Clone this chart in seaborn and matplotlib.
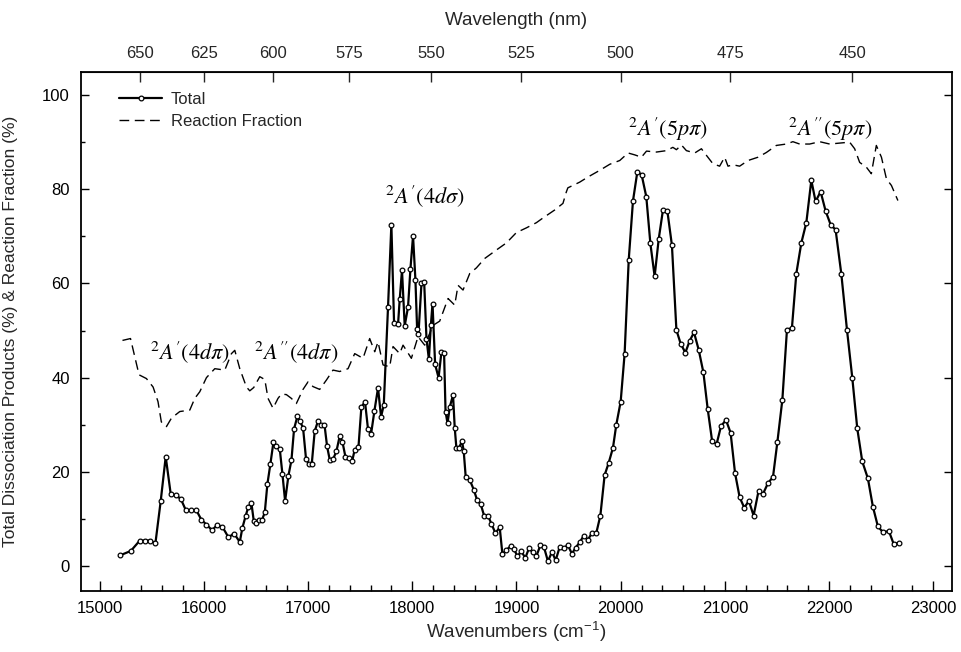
import numpy as np
import pandas as pd
import matplotlib
matplotlib.use("Agg")
import matplotlib.pyplot as plt
import seaborn as sns
from matplotlib.ticker import MultipleLocator, FixedLocator, NullLocator

# ---------------- data ----------------
total_wn = [15199, 15298, 15384, 15438, 15486, 15534, 15585, 15633, 15681, 15729,
            15777, 15825, 15873, 15928, 15976, 16024, 16078, 16126, 16178, 16235,
            16289, 16344, 16369, 16401, 16427, 16456, 16478, 16504, 16529, 16558,
            16584, 16609, 16638, 16667, 16696, 16728, 16753, 16779, 16811, 16840,
            16865, 16897, 16922, 16951, 16980, 17006, 17035, 17063, 17095, 17124,
            17157, 17182, 17208, 17240, 17272, 17303, 17329, 17358, 17390, 17422,
            17447, 17483, 17511, 17546, 17575, 17604, 17636, 17671, 17700, 17726,
            17767, 17799, 17825, 17863, 17879, 17901, 17927, 17959, 17982, 18007,
            18030, 18046, 18059, 18088, 18114, 18136, 18159, 18178, 18194, 18219,
            18252, 18280, 18305, 18319, 18338, 18360, 18391, 18407, 18423, 18448,
            18477, 18493, 18513, 18551, 18590, 18622, 18657, 18689, 18727, 18760,
            18798, 18839, 18865, 18903, 18943, 18975, 19009, 19047, 19085, 19120,
            19158, 19191, 19229, 19264, 19302, 19341, 19376, 19414, 19453, 19494,
            19532, 19568, 19606, 19645, 19686, 19724, 19766, 19805, 19846, 19885,
            19926, 19958, 20000, 20038, 20077, 20118, 20160, 20201, 20246, 20285,
            20326, 20365, 20406, 20448, 20492, 20535, 20576, 20621, 20662, 20704,
            20749, 20794, 20835, 20878, 20921, 20963, 21011, 21055, 21098, 21142,
            21186, 21231, 21276, 21324, 21366, 21414, 21462, 21504, 21552, 21596,
            21644, 21686, 21734, 21782, 21830, 21871, 21919, 21967, 22015, 22063,
            22118, 22172, 22223, 22271, 22319, 22373, 22421, 22469, 22517, 22575,
            22620, 22671]
total_val = [2.3, 3.2, 5.4, 5.4, 5.4, 4.8, 13.8, 23.2, 15.3, 15.0,
             14.3, 11.9, 11.8, 11.8, 9.8, 8.8, 7.6, 8.7, 8.3, 6.1,
             6.9, 5.1, 8.1, 10.7, 12.6, 13.3, 9.6, 9.2, 9.7, 9.8,
             11.4, 17.4, 21.7, 26.3, 25.4, 24.8, 19.6, 13.8, 19.2, 22.5,
             29.1, 31.8, 30.7, 29.4, 22.7, 21.7, 21.7, 28.6, 30.8, 30.0,
             30.0, 25.4, 22.5, 22.7, 24.4, 27.6, 26.4, 23.2, 23.0, 22.2,
             24.7, 25.2, 33.7, 34.9, 29.0, 28.0, 32.9, 37.8, 31.7, 34.2,
             55.0, 72.5, 51.5, 51.3, 56.6, 62.8, 51.0, 55.0, 63.1, 70.1,
             60.7, 50.4, 49.2, 60.0, 60.2, 48.3, 43.9, 51.1, 55.7, 42.8,
             40.0, 45.5, 45.2, 32.8, 30.3, 33.8, 36.3, 29.4, 25.1, 25.1,
             26.5, 24.5, 18.8, 18.3, 16.2, 14.0, 13.1, 10.7, 10.7, 8.9,
             7.0, 8.2, 2.5, 3.4, 4.2, 3.6, 2.1, 3.1, 1.7, 3.8,
             2.9, 2.1, 4.4, 4.0, 1.0, 3.0, 1.2, 4.0, 3.8, 4.4,
             2.6, 3.9, 5.0, 6.4, 5.6, 7.0, 7.0, 10.7, 19.3, 21.9,
             25.1, 30.0, 34.9, 45.1, 64.9, 77.5, 83.7, 83.1, 78.4, 68.5,
             61.5, 69.4, 75.6, 75.4, 68.1, 50.1, 47.2, 45.3, 47.8, 49.6,
             45.9, 41.1, 33.4, 26.5, 25.9, 29.7, 31.0, 28.3, 19.7, 14.6,
             12.4, 13.8, 10.7, 16.0, 15.3, 17.6, 18.9, 26.3, 35.3, 50.1,
             50.6, 62.1, 68.6, 72.9, 81.9, 77.4, 79.5, 75.4, 72.5, 71.4,
             62.0, 50.2, 40.0, 29.2, 22.2, 18.6, 12.6, 8.4, 7.2, 7.4,
             4.7, 4.9]

frac_wn = [15218, 15295, 15377, 15448, 15512, 15559, 15591, 15640, 15688, 15768,
           15864, 15912, 15960, 16024, 16104, 16200, 16264, 16296, 16344, 16408,
           16440, 16478, 16536, 16584, 16615, 16663, 16711, 16743, 16791, 16839,
           16887, 16951, 16999, 17047, 17111, 17176, 17239, 17303, 17383, 17447,
           17527, 17591, 17639, 17671, 17719, 17783, 17815, 17879, 17911, 17991,
           18055, 18119, 18199, 18263, 18343, 18407, 18439, 18487, 18551, 18615,
           18695, 18807, 18903, 18999, 19095, 19191, 19254, 19367, 19446, 19478,
           19493, 19606, 19686, 19798, 19895, 19991, 20071, 20135, 20199, 20248,
           20344, 20440, 20501, 20535, 20583, 20631, 20711, 20775, 20823, 20886,
           20950, 20998, 21030, 21078, 21142, 21222, 21318, 21398, 21494, 21590,
           21653, 21718, 21814, 21910, 22006, 22102, 22198, 22246, 22294, 22358,
           22406, 22454, 22503, 22551, 22599, 22661]
frac_val = [47.9, 48.3, 40.6, 39.8, 38.0, 34.9, 30.6, 29.6, 31.4, 32.8,
            33.1, 35.6, 37.0, 40.0, 41.9, 41.6, 45.1, 45.8, 41.9, 38.0,
            37.2, 37.9, 40.2, 39.6, 35.6, 33.5, 35.6, 36.5, 36.4, 35.6,
            34.5, 37.5, 39.1, 38.1, 37.5, 39.5, 41.6, 41.3, 41.9, 45.1,
            44.1, 48.3, 45.5, 47.6, 42.7, 42.3, 46.6, 45.1, 46.9, 44.1,
            48.7, 46.9, 51.1, 52.0, 56.8, 55.4, 59.6, 58.6, 62.1, 63.3,
            65.3, 67.1, 68.6, 70.8, 71.8, 72.9, 73.9, 75.6, 77.0, 79.4,
            80.3, 81.5, 82.6, 84.0, 85.3, 86.1, 87.7, 87.3, 86.8, 88.1,
            87.9, 88.2, 88.9, 88.4, 89.4, 88.2, 87.7, 88.6, 87.2, 85.4,
            84.9, 86.8, 84.9, 85.2, 84.9, 86.1, 86.8, 87.8, 89.3, 89.6,
            90.1, 89.6, 89.6, 90.1, 89.6, 89.8, 90.0, 88.6, 85.7, 84.7,
            83.3, 89.3, 86.8, 82.2, 80.8, 77.6]

wavelength_ticks = [650, 625, 600, 575, 550, 525, 500, 475, 450]

band_labels = [r"$^{2}A'(4d\pi)$", r"$^{2}A''(4d\pi)$", r"$^{2}A'(4d\sigma)$",
               r"$^{2}A'(5p\pi)$", r"$^{2}A''(5p\pi)$"]
band_x = [15480, 16478, 17736, 20069, 21605]
band_y = [45.5, 45.5, 78.6, 92.8, 92.8]

# ---------------- style ----------------
sns.set_style("ticks")
plt.rcParams["font.family"] = ["Liberation Sans", "DejaVu Sans"]
plt.rcParams["mathtext.fontset"] = "stix"

df_total = pd.DataFrame({"wn": total_wn, "val": total_val})
df_frac = pd.DataFrame({"wn": frac_wn, "val": frac_val})

fig = plt.figure(figsize=(9.61, 6.52), dpi=100)
ax = fig.add_axes([0.0843, 0.0936, 0.9063, 0.796])

sns.lineplot(data=df_total, x="wn", y="val", ax=ax, color="black", lw=1.6,
             marker="o", markersize=3.4, markerfacecolor="white",
             markeredgecolor="black", markeredgewidth=0.9, sort=False,
             label="Total")
sns.lineplot(data=df_frac, x="wn", y="val", ax=ax, color="black", lw=1.0,
             sort=False, label="Reaction Fraction")
ax.lines[1].set_dashes([7, 4])

ax.set_xlim(14820, 23180)
ax.set_ylim(-5.3, 104.9)

ax.xaxis.set_major_locator(MultipleLocator(1000))
ax.xaxis.set_minor_locator(MultipleLocator(200))
ax.yaxis.set_major_locator(MultipleLocator(20))
ax.yaxis.set_minor_locator(MultipleLocator(10))

ax.tick_params(axis="both", which="both", direction="in", colors="black",
               labelsize=12, width=1.0)
ax.tick_params(axis="x", which="major", length=7, pad=7, top=False)
ax.tick_params(axis="x", which="minor", length=4, top=False)
ax.tick_params(axis="y", which="major", length=6, pad=8, right=True)
ax.tick_params(axis="y", which="minor", length=3, right=False)

for s in ax.spines.values():
    s.set_linewidth(1.3)
    s.set_color("black")

ax.set_xlabel(r"Wavenumbers (cm$^{\mathregular{-1}}$)", fontsize=13.5)
ax.set_ylabel("Total Dissociation Products (%) & Reaction Fraction (%)", fontsize=12.5)
ax.yaxis.set_label_coords(-0.072, 0.5)
ax.xaxis.set_label_coords(0.5, -0.055)

def to_nm(x):
    x = np.asarray(x, dtype=float)
    with np.errstate(divide="ignore", invalid="ignore"):
        return 1e7 / x

secax = ax.secondary_xaxis("top", functions=(to_nm, to_nm))
secax.xaxis.set_major_locator(FixedLocator(wavelength_ticks))
secax.xaxis.set_minor_locator(NullLocator())
secax.tick_params(axis="x", direction="in", length=7, width=1.0, pad=8,
                  labelsize=12)
secax.set_xlabel("Wavelength (nm)", fontsize=13.5, labelpad=15)

for lab, bx, by in zip(band_labels, band_x, band_y):
    ax.text(bx, by, lab, fontsize=16, ha="left", va="center", color="black")

leg = ax.legend(loc="upper left", bbox_to_anchor=(0.036, 0.975), frameon=False,
                fontsize=12, handlelength=2.6, handletextpad=0.5,
                labelspacing=0.45, borderaxespad=0.0)

fig.savefig("out.png", dpi=100)
